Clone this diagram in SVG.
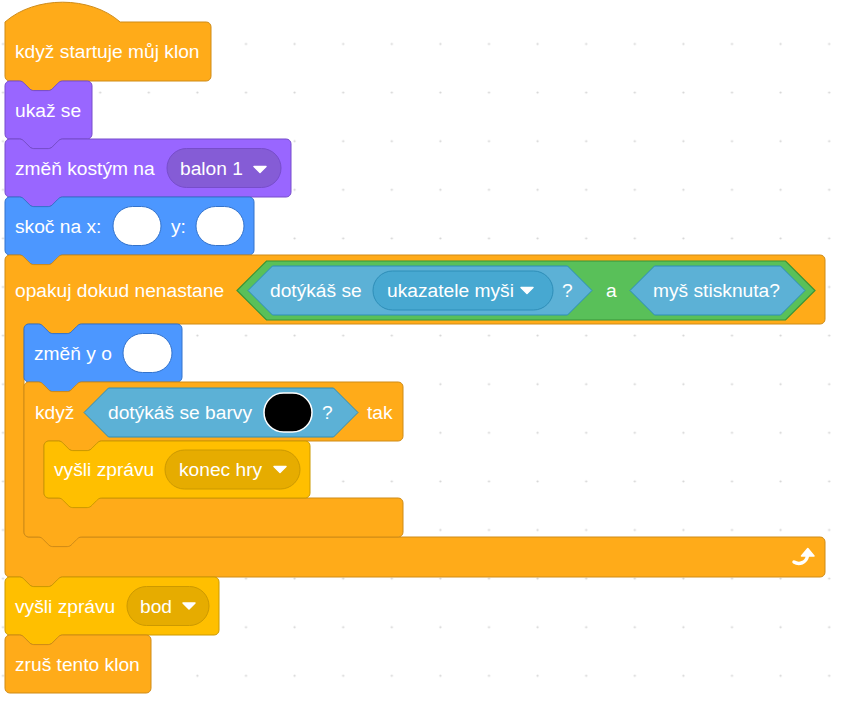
<svg xmlns="http://www.w3.org/2000/svg" width="846" height="702" viewBox="0 0 846 702">
<style>
.t{font-family:"Liberation Sans",Arial,sans-serif;font-size:19.2px;fill:#fff}
.ctl{fill:#FFAB19;stroke:#CF8B17;stroke-width:1}
.looks{fill:#9966FF;stroke:#774DCB;stroke-width:1}
.looksdd{fill:#855CD6;stroke:#774DCB;stroke-width:1}
.motion{fill:#4C97FF;stroke:#3373CC;stroke-width:1}
.events{fill:#FFBF00;stroke:#CC9900;stroke-width:1}
.eventsdd{fill:#E6AC00;stroke:#CC9900;stroke-width:1}
.sens{fill:#5CB1D6;stroke:#2E8EB8;stroke-width:1}
.sensdd{fill:#47A8D1;stroke:#2E8EB8;stroke-width:1}
.op{fill:#59C059;stroke:#389438;stroke-width:1.2}
.num{fill:#fff;stroke:#3373CC;stroke-width:1}
.arr{fill:#fff;stroke:#fff;stroke-width:1.5;stroke-linejoin:round}
</style>
<defs>
<pattern id="grid" x="-21.3" y="19.7" width="48.6" height="48.6" patternUnits="userSpaceOnUse">
<circle cx="24.3" cy="24.3" r="1.1" fill="#d4d4d4"/>
</pattern>
</defs>
<rect width="846" height="702" fill="#fff"/>
<rect width="846" height="702" fill="url(#grid)"/>

<g id="hat">
<path class="ctl" transform="translate(5,22)" d="M 0,0 c 30,-26.4 85.2,-26.4 115.2,0 H 201.2 A 4.8 4.8 0 0 1 206,4.8 V 54.2 A 4.8 4.8 0 0 1 201.2,59 H 57.6 c -2.4,0 -3.6,1.2 -4.8,2.4 l -4.8,4.8 c -1.2,1.2 -2.4,2.4 -4.8,2.4 h -14.4 c -2.4,0 -3.6,-1.2 -4.8,-2.4 l -4.8,-4.8 c -1.2,-1.2 -2.4,-2.4 -4.8,-2.4 H 4.8 A 4.8 4.8 0 0 1 0,54.2 Z"/>
<text class="t" x="15" y="58.4">když startuje můj klon</text>
</g>

<g id="show">
<path class="looks" transform="translate(5,81)" d="M 0,4.8 A 4.8 4.8 0 0 1 4.8,0 H 14.4 c 2.4,0 3.6,1.2 4.8,2.4 l 4.8,4.8 c 1.2,1.2 2.4,2.4 4.8,2.4 h 14.4 c 2.4,0 3.6,-1.2 4.8,-2.4 l 4.8,-4.8 c 1.2,-1.2 2.4,-2.4 4.8,-2.4 H 82.2 A 4.8 4.8 0 0 1 87,4.8 V 53.2 A 4.8 4.8 0 0 1 82.2,58 H 57.6 c -2.4,0 -3.6,1.2 -4.8,2.4 l -4.8,4.8 c -1.2,1.2 -2.4,2.4 -4.8,2.4 h -14.4 c -2.4,0 -3.6,-1.2 -4.8,-2.4 l -4.8,-4.8 c -1.2,-1.2 -2.4,-2.4 -4.8,-2.4 H 4.8 A 4.8 4.8 0 0 1 0,53.2 Z"/>
<text class="t" x="15" y="116.9">ukaž se</text>
</g>

<g id="costume">
<path class="looks" transform="translate(5,139)" d="M 0,4.8 A 4.8 4.8 0 0 1 4.8,0 H 14.4 c 2.4,0 3.6,1.2 4.8,2.4 l 4.8,4.8 c 1.2,1.2 2.4,2.4 4.8,2.4 h 14.4 c 2.4,0 3.6,-1.2 4.8,-2.4 l 4.8,-4.8 c 1.2,-1.2 2.4,-2.4 4.8,-2.4 H 281.2 A 4.8 4.8 0 0 1 286,4.8 V 53.2 A 4.8 4.8 0 0 1 281.2,58 H 57.6 c -2.4,0 -3.6,1.2 -4.8,2.4 l -4.8,4.8 c -1.2,1.2 -2.4,2.4 -4.8,2.4 h -14.4 c -2.4,0 -3.6,-1.2 -4.8,-2.4 l -4.8,-4.8 c -1.2,-1.2 -2.4,-2.4 -4.8,-2.4 H 4.8 A 4.8 4.8 0 0 1 0,53.2 Z"/>
<text class="t" x="15" y="174.9">změň kostým na</text>
<rect class="looksdd" x="167" y="148.5" width="114" height="39" rx="19.5"/>
<text class="t" x="180" y="174.9">balon 1</text>
<path class="arr" d="M 254,166.5 h 12 l -6,6 z"/>
</g>

<g id="goto">
<path class="motion" transform="translate(5,197)" d="M 0,4.8 A 4.8 4.8 0 0 1 4.8,0 H 14.4 c 2.4,0 3.6,1.2 4.8,2.4 l 4.8,4.8 c 1.2,1.2 2.4,2.4 4.8,2.4 h 14.4 c 2.4,0 3.6,-1.2 4.8,-2.4 l 4.8,-4.8 c 1.2,-1.2 2.4,-2.4 4.8,-2.4 H 244.2 A 4.8 4.8 0 0 1 249,4.8 V 53.2 A 4.8 4.8 0 0 1 244.2,58 H 57.6 c -2.4,0 -3.6,1.2 -4.8,2.4 l -4.8,4.8 c -1.2,1.2 -2.4,2.4 -4.8,2.4 h -14.4 c -2.4,0 -3.6,-1.2 -4.8,-2.4 l -4.8,-4.8 c -1.2,-1.2 -2.4,-2.4 -4.8,-2.4 H 4.8 A 4.8 4.8 0 0 1 0,53.2 Z"/>
<text class="t" x="15" y="232.9">skoč na x:</text>
<rect class="num" x="113" y="206.5" width="48" height="39" rx="19.5"/>
<text class="t" x="171" y="232.9">y:</text>
<rect class="num" x="196" y="206.5" width="48" height="39" rx="19.5"/>
</g>

<g id="repeat-until">
<path class="ctl" transform="translate(5,255)" d="M 0,4.8 A 4.8 4.8 0 0 1 4.8,0 H 14.4 c 2.4,0 3.6,1.2 4.8,2.4 l 4.8,4.8 c 1.2,1.2 2.4,2.4 4.8,2.4 h 14.4 c 2.4,0 3.6,-1.2 4.8,-2.4 l 4.8,-4.8 c 1.2,-1.2 2.4,-2.4 4.8,-2.4 H 815.2 A 4.8 4.8 0 0 1 820,4.8 V 64.2 A 4.8 4.8 0 0 1 815.2,69 H 76.6 c -2.4,0 -3.6,1.2 -4.8,2.4 l -4.8,4.8 c -1.2,1.2 -2.4,2.4 -4.8,2.4 h -14.4 c -2.4,0 -3.6,-1.2 -4.8,-2.4 l -4.8,-4.8 c -1.2,-1.2 -2.4,-2.4 -4.8,-2.4 H 23.8 A 4.8 4.8 0 0 0 19,73.8 V 277.2 A 4.8 4.8 0 0 0 23.8,282 H 815.2 A 4.8 4.8 0 0 1 820,286.8 V 317.2 A 4.8 4.8 0 0 1 815.2,322 H 57.6 c -2.4,0 -3.6,1.2 -4.8,2.4 l -4.8,4.8 c -1.2,1.2 -2.4,2.4 -4.8,2.4 h -14.4 c -2.4,0 -3.6,-1.2 -4.8,-2.4 l -4.8,-4.8 c -1.2,-1.2 -2.4,-2.4 -4.8,-2.4 H 4.8 A 4.8 4.8 0 0 1 0,317.2 Z"/>
<text class="t" x="15" y="297.4">opakuj dokud nenastane</text>
<path class="op" d="M 237,290.5 L 266.5,261 H 785.5 L 815,290.5 L 785.5,320 H 266.5 Z"/>
<path class="sens" d="M 248,290.5 L 272.5,266 H 567.5 L 592,290.5 L 567.5,315 H 272.5 Z"/>
<text class="t" x="270" y="297.4">dotýkáš se</text>
<rect class="sensdd" x="373" y="271" width="180" height="39" rx="19.5"/>
<text class="t" x="387" y="297.4">ukazatele myši</text>
<path class="arr" d="M 521,287.5 h 12 l -6,6 z"/>
<text class="t" x="562" y="297.4">?</text>
<text class="t" x="606" y="297.4">a</text>
<path class="sens" d="M 630,290.5 L 654.5,266 H 780.5 L 805,290.5 L 780.5,315 H 654.5 Z"/>
<text class="t" x="653" y="297.4">myš stisknuta?</text>
<path d="M 794,562 c 5,3 12,1 13.5,-6" fill="none" stroke="#fff" stroke-width="3.5" stroke-linecap="round"/>
<path d="M 801.5,556 L 807.8,548.5 L 814,556 Z" fill="#fff" stroke="#fff" stroke-width="1.5" stroke-linejoin="round"/>
</g>

<g id="change-y">
<path class="motion" transform="translate(24,324)" d="M 0,4.8 A 4.8 4.8 0 0 1 4.8,0 H 14.4 c 2.4,0 3.6,1.2 4.8,2.4 l 4.8,4.8 c 1.2,1.2 2.4,2.4 4.8,2.4 h 14.4 c 2.4,0 3.6,-1.2 4.8,-2.4 l 4.8,-4.8 c 1.2,-1.2 2.4,-2.4 4.8,-2.4 H 153.2 A 4.8 4.8 0 0 1 158,4.8 V 53.2 A 4.8 4.8 0 0 1 153.2,58 H 57.6 c -2.4,0 -3.6,1.2 -4.8,2.4 l -4.8,4.8 c -1.2,1.2 -2.4,2.4 -4.8,2.4 h -14.4 c -2.4,0 -3.6,-1.2 -4.8,-2.4 l -4.8,-4.8 c -1.2,-1.2 -2.4,-2.4 -4.8,-2.4 H 4.8 A 4.8 4.8 0 0 1 0,53.2 Z"/>
<text class="t" x="34" y="359.9">změň y o</text>
<rect class="num" x="123" y="333.5" width="49" height="39" rx="19.5"/>
</g>

<g id="if">
<path class="ctl" transform="translate(24,382)" d="M 0,4.8 A 4.8 4.8 0 0 1 4.8,0 H 14.4 c 2.4,0 3.6,1.2 4.8,2.4 l 4.8,4.8 c 1.2,1.2 2.4,2.4 4.8,2.4 h 14.4 c 2.4,0 3.6,-1.2 4.8,-2.4 l 4.8,-4.8 c 1.2,-1.2 2.4,-2.4 4.8,-2.4 H 374.2 A 4.8 4.8 0 0 1 379,4.8 V 54.2 A 4.8 4.8 0 0 1 374.2,59 H 77.6 c -2.4,0 -3.6,1.2 -4.8,2.4 l -4.8,4.8 c -1.2,1.2 -2.4,2.4 -4.8,2.4 h -14.4 c -2.4,0 -3.6,-1.2 -4.8,-2.4 l -4.8,-4.8 c -1.2,-1.2 -2.4,-2.4 -4.8,-2.4 H 24.8 A 4.8 4.8 0 0 0 20,63.8 V 111.2 A 4.8 4.8 0 0 0 24.8,116 H 374.2 A 4.8 4.8 0 0 1 379,120.8 V 150.2 A 4.8 4.8 0 0 1 374.2,155 H 57.6 c -2.4,0 -3.6,1.2 -4.8,2.4 l -4.8,4.8 c -1.2,1.2 -2.4,2.4 -4.8,2.4 h -14.4 c -2.4,0 -3.6,-1.2 -4.8,-2.4 l -4.8,-4.8 c -1.2,-1.2 -2.4,-2.4 -4.8,-2.4 H 4.8 A 4.8 4.8 0 0 1 0,150.2 Z"/>
<text class="t" x="35" y="419">když</text>
<path class="sens" d="M 84,412.5 L 108.5,388 H 333.5 L 358,412.5 L 333.5,437 H 108.5 Z"/>
<text class="t" x="108" y="419">dotýkáš se barvy</text>
<rect x="264" y="393" width="48" height="39" rx="19.5" fill="#000" stroke="#fff" stroke-width="1.5"/>
<text class="t" x="322" y="419">?</text>
<text class="t" x="367" y="419">tak</text>
</g>

<g id="broadcast-end">
<path class="events" transform="translate(44,441)" d="M 0,4.8 A 4.8 4.8 0 0 1 4.8,0 H 14.4 c 2.4,0 3.6,1.2 4.8,2.4 l 4.8,4.8 c 1.2,1.2 2.4,2.4 4.8,2.4 h 14.4 c 2.4,0 3.6,-1.2 4.8,-2.4 l 4.8,-4.8 c 1.2,-1.2 2.4,-2.4 4.8,-2.4 H 261.2 A 4.8 4.8 0 0 1 266,4.8 V 52.2 A 4.8 4.8 0 0 1 261.2,57 H 57.6 c -2.4,0 -3.6,1.2 -4.8,2.4 l -4.8,4.8 c -1.2,1.2 -2.4,2.4 -4.8,2.4 h -14.4 c -2.4,0 -3.6,-1.2 -4.8,-2.4 l -4.8,-4.8 c -1.2,-1.2 -2.4,-2.4 -4.8,-2.4 H 4.8 A 4.8 4.8 0 0 1 0,52.2 Z"/>
<text class="t" x="54" y="476.4">vyšli zprávu</text>
<rect class="eventsdd" x="165" y="450" width="135" height="39" rx="19.5"/>
<text class="t" x="179" y="476.4">konec hry</text>
<path class="arr" d="M 274,466.5 h 12 l -6,6 z"/>
</g>

<g id="broadcast-bod">
<path class="events" transform="translate(5,577)" d="M 0,4.8 A 4.8 4.8 0 0 1 4.8,0 H 14.4 c 2.4,0 3.6,1.2 4.8,2.4 l 4.8,4.8 c 1.2,1.2 2.4,2.4 4.8,2.4 h 14.4 c 2.4,0 3.6,-1.2 4.8,-2.4 l 4.8,-4.8 c 1.2,-1.2 2.4,-2.4 4.8,-2.4 H 209.2 A 4.8 4.8 0 0 1 214,4.8 V 53.2 A 4.8 4.8 0 0 1 209.2,58 H 57.6 c -2.4,0 -3.6,1.2 -4.8,2.4 l -4.8,4.8 c -1.2,1.2 -2.4,2.4 -4.8,2.4 h -14.4 c -2.4,0 -3.6,-1.2 -4.8,-2.4 l -4.8,-4.8 c -1.2,-1.2 -2.4,-2.4 -4.8,-2.4 H 4.8 A 4.8 4.8 0 0 1 0,53.2 Z"/>
<text class="t" x="15" y="612.9">vyšli zprávu</text>
<rect class="eventsdd" x="127" y="586.5" width="82" height="39" rx="19.5"/>
<text class="t" x="140" y="612.9">bod</text>
<path class="arr" d="M 183,603 h 12 l -6,6 z"/>
</g>

<g id="delete-clone">
<path class="ctl" transform="translate(5,635)" d="M 0,4.8 A 4.8 4.8 0 0 1 4.8,0 H 14.4 c 2.4,0 3.6,1.2 4.8,2.4 l 4.8,4.8 c 1.2,1.2 2.4,2.4 4.8,2.4 h 14.4 c 2.4,0 3.6,-1.2 4.8,-2.4 l 4.8,-4.8 c 1.2,-1.2 2.4,-2.4 4.8,-2.4 H 141.2 A 4.8 4.8 0 0 1 146,4.8 V 53.2 A 4.8 4.8 0 0 1 141.2,58 H 4.8 A 4.8 4.8 0 0 1 0,53.2 Z"/>
<text class="t" x="15" y="670.9">zruš tento klon</text>
</g>
</svg>
